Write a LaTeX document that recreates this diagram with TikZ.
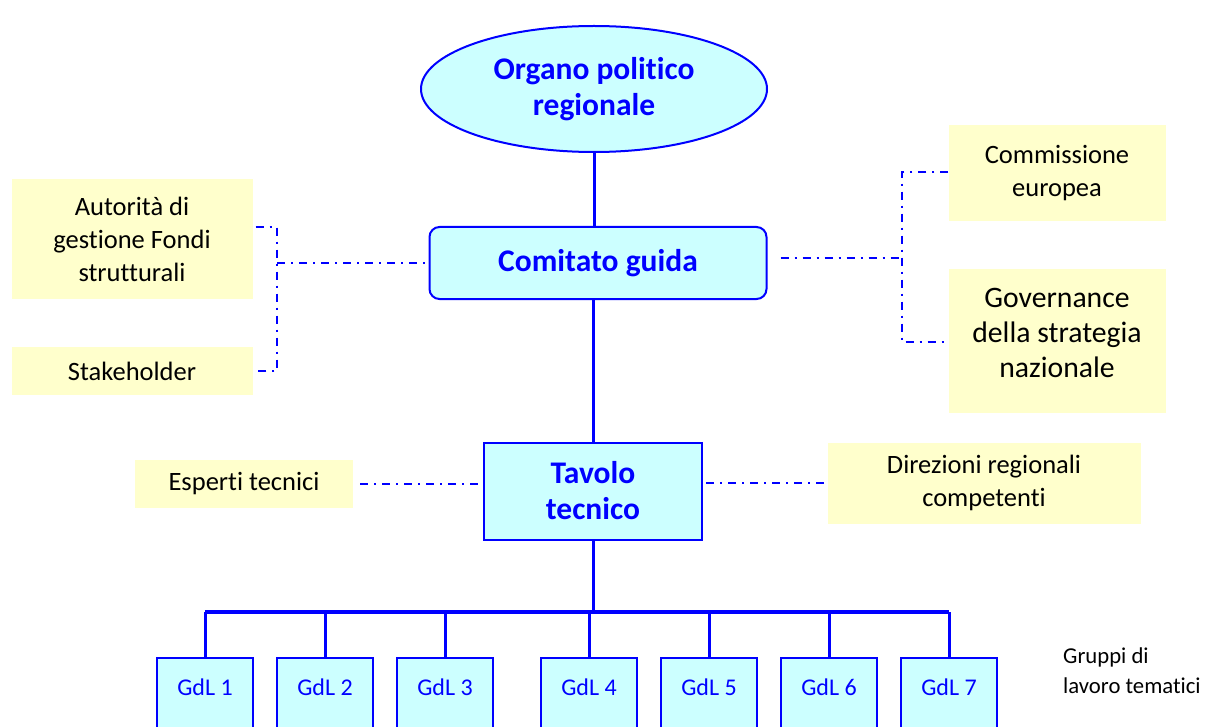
\documentclass[tikz,border=0pt]{standalone}
\usepackage{fontspec}
\setmainfont{Carlito}[Ligatures=NoCommon]
\usetikzlibrary{shapes.geometric}
\definecolor{pale}{HTML}{FFFFCC}
\definecolor{sky}{HTML}{CCFFFF}
\tikzstyle{main} = [draw=blue,fill=sky,line width=2pt,text=blue,align=center,
	font=\fontsize{31.5}{36}\selectfont\bfseries]
\tikzstyle{aside} = [fill=pale,align=center,font=\fontsize{26.5}{33}\selectfont]
\tikzstyle{gdl} = [draw=blue,fill=sky,line width=1.4pt,text=blue,minimum width=96pt,
	inner ysep=0pt,text height=37pt,text depth=63pt,font=\fontsize{24}{28}\selectfont]
\tikzstyle{link} = [blue,line width=2pt,dash pattern=on 8pt off 6pt on 2pt off 6pt]
\tikzstyle{tie} = [blue,line width=3pt]

\begin{document}
\begin{tikzpicture}[x=1pt,y=-1pt]
	\useasboundingbox (0,0) rectangle (1214,727);
	
	\node[main,ellipse,minimum width=346pt,minimum height=126pt] (organo) at (594,89) {Organo politico\\regionale};
	\node[main,rounded corners=10pt,minimum width=337pt,minimum height=72pt] (comitato) at (598,263) {Comitato guida};
	\node[main,minimum width=218pt,minimum height=97pt] (tavolo) at (593,491) {Tavolo\\tecnico};
	
	\node[aside,minimum width=241pt,minimum height=120pt] (autorita) at (132,239) {Autorità di\\gestione Fondi\\strutturali};
	\node[aside,minimum width=241pt,minimum height=48pt] (stakeholder) at (132,371) {Stakeholder};
	\node[aside,minimum width=217pt,minimum height=96pt] (commissione) at (1057,173) {Commissione\\europea};
	\node[aside,minimum width=217pt,minimum height=144pt,font=\fontsize{29.7}{35}\selectfont,
		text depth=16pt] (governance) at (1057,341) {Governance\\della strategia\\nazionale};
	\node[aside,minimum width=218pt,minimum height=48pt] (esperti) at (244,484) {Esperti tecnici};
	\node[aside,minimum width=313pt,minimum height=81pt] (direzioni) at (984,483) {Direzioni regionali\\competenti};
	
	\node[anchor=north west,align=left,inner sep=0pt,font=\fontsize{22.7}{30}\selectfont] (gruppi) at (1063,648) {Gruppi di\\lavoro tematici};
	
	% solid hierarchy
	\draw[tie] (organo.south) -- (organo.south |- comitato.north);
	\draw[tie] (tavolo.north) -- (tavolo.north |- comitato.south);
	
	% side links
	\coordinate (ltop) at (277,227);
	\coordinate (lbot) at (277,371);
	\coordinate (rtop) at (902,172);
	\coordinate (rbot) at (902,342);
	\draw[link] ([xshift=3pt]autorita.east |- ltop) -- (ltop) -- (lbot) -- ([xshift=3pt]stakeholder.east |- lbot);
	\draw[link] (ltop |- comitato.west) -- (comitato.west);
	\draw[link] (commissione.west |- rtop) -- (rtop) -- (rbot) -- (governance.west |- rbot);
	\draw[link] ([xshift=13pt,yshift=5pt]comitato.east) -- ([yshift=5pt]rtop |- comitato.east);
	\draw[link] ([xshift=7pt]esperti.east) -- (tavolo.west |- esperti.east);
	\draw[link] ([xshift=3pt]tavolo.east |- direzioni.west) -- (direzioni.west);
	
	% working groups
	\coordinate (bus) at (590,612);
	\foreach \x [count=\i] in {205,325,445,589,709,829,949}
		\node[gdl] (gdl\i) at (\x,708) {GdL \i};
	\draw[tie,line width=4.5pt] (gdl1.north |- bus) -- (gdl7.north |- bus);
	\draw[tie] (tavolo.south) -- (tavolo.south |- bus);
	\foreach \i in {1,...,7}
		\draw[tie] (gdl\i.north) -- (gdl\i.north |- bus);
\end{tikzpicture}
\end{document}
